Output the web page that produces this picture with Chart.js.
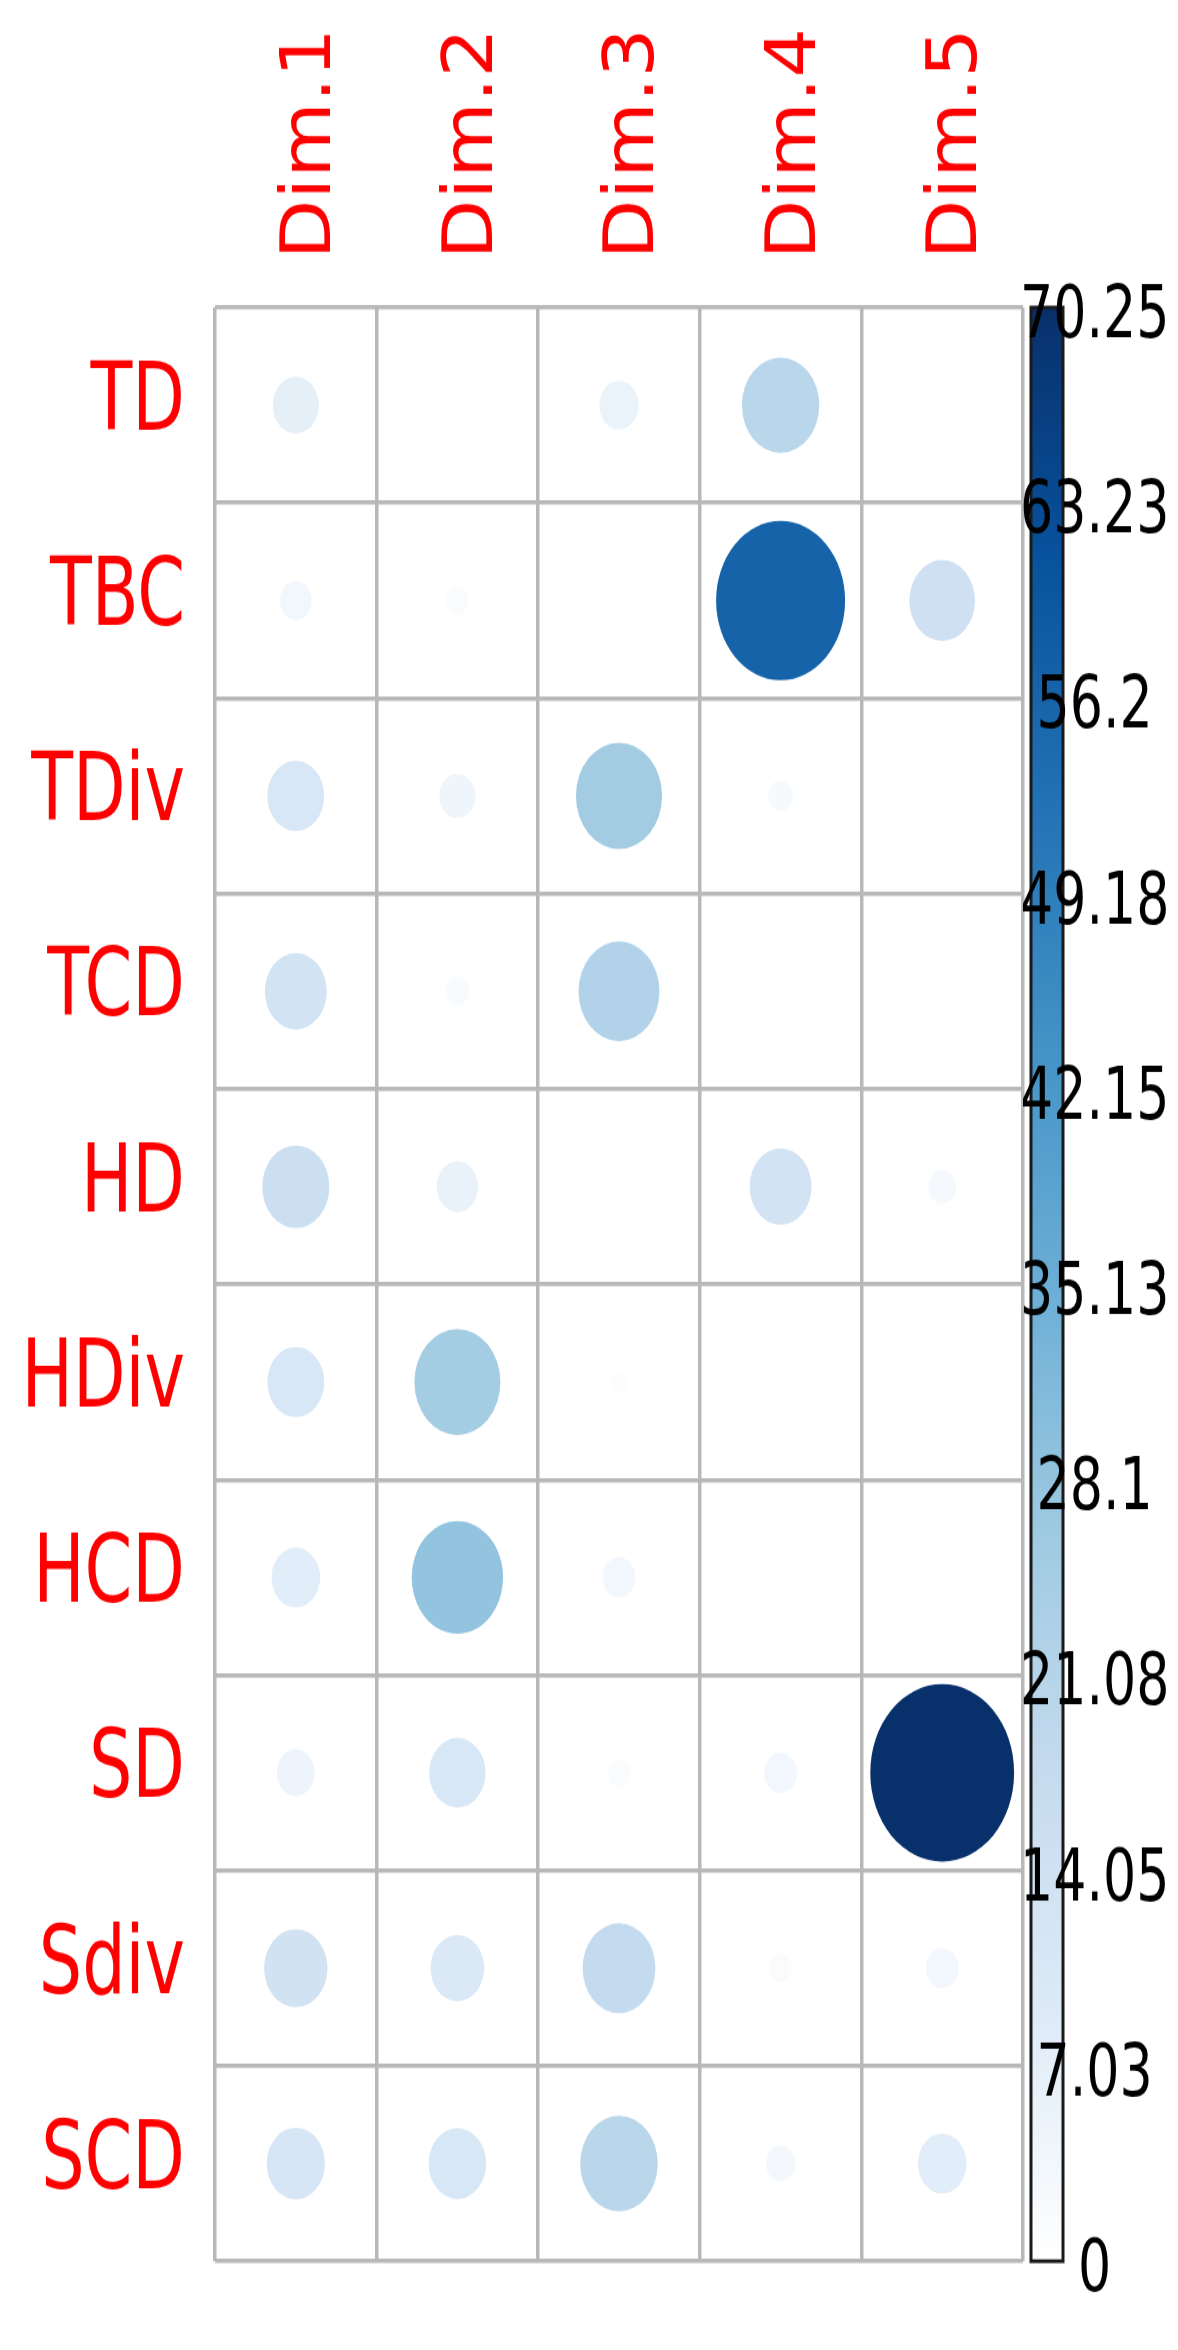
<!DOCTYPE html>
<html>
<head>
<meta charset="utf-8">
<title>Contributions</title>
<script src="https://cdn.jsdelivr.net/npm/chart.js@4.4.1/dist/chart.umd.min.js"></script>
<style>
    html, body { margin: 0; padding: 0; background: #fff; }
    #page { width: 1178px; height: 2350px; overflow: hidden; }
    #wrap { width: 1178px; height: 1903px; transform: scaleY(1.2349); transform-origin: 0 0; }
</style>
</head>
<body>
<div id="page"><div id="wrap"><canvas id="corrChart" width="1178" height="1903"></canvas></div></div>
<script>
const dims = ['Dim.1', 'Dim.2', 'Dim.3', 'Dim.4', 'Dim.5'];
const vars = ['TD', 'TBC', 'TDiv', 'TCD', 'HD', 'HDiv', 'HCD', 'SD', 'Sdiv', 'SCD'];

// contribution (%) of each variable, one array per dimension, in the order of vars
const dim1 = [7.2, 3.4, 11.0, 13.0, 15.3, 11.0, 8.0, 4.9, 13.6, 11.5];
const dim2 = [0.1, 1.7, 4.4, 1.9, 5.8, 25.1, 28.3, 10.8, 9.8, 11.2];
const dim3 = [5.3, 0.4, 25.2, 22.2, 0.1, 1.0, 3.6, 1.7, 18.0, 20.4];
const dim4 = [20.3, 56.5, 2.1, 0.2, 13.0, 0.2, 0.2, 3.6, 1.7, 2.9];
const dim5 = [0.1, 14.6, 0.2, 0.2, 2.6, 0.2, 0.3, 70.25, 3.6, 8.0];

const scaleTicks = [0, 7.03, 14.05, 21.08, 28.1, 35.13, 42.15, 49.18, 56.2, 63.23, 70.25];
const scaleLabels = ['0', '7.03', '14.05', '21.08', '28.1', '35.13', '42.15', '49.18', '56.2', '63.23', '70.25'];
const blues = ['#FFFFFF', '#DEEBF7', '#C6DBEF', '#9ECAE1', '#6BAED6', '#4292C6', '#2171B5', '#08519C', '#08306B'];

const maxValue = 70.25;
const leftAxisWidth = 215;
const barAxisWidth = 155;
const fontFamily = "'DejaVu Sans Condensed', 'Liberation Sans', sans-serif";

const points = [];
[dim1, dim2, dim3, dim4, dim5].forEach((col, j) => {
    col.forEach((v, i) => points.push({x: dims[j], y: vars[i], v: v}));
});

function hexToRgb(h) {
    const n = parseInt(h.slice(1), 16);
    return [(n >> 16) & 255, (n >> 8) & 255, n & 255];
}

function bluesAt(v) {
    const t = Math.min(Math.max(v / maxValue, 0), 1) * (blues.length - 1);
    const i = Math.min(Math.floor(t), blues.length - 2);
    const f = t - i;
    const a = hexToRgb(blues[i]);
    const b = hexToRgb(blues[i + 1]);
    const c = a.map((x, k) => Math.round(x + (b[k] - x) * f));
    return `rgb(${c[0]}, ${c[1]}, ${c[2]})`;
}

// gradient bar behind the colour scale labels
const colorBar = {
    id: 'colorBar',
    beforeDraw(chart) {
        const s = chart.scales.cb;
        const top = s.getPixelForValue(maxValue);
        const bottom = s.getPixelForValue(0);
        const left = s.left + 8;
        const width = 32;
        const ctx = chart.ctx;
        const g = ctx.createLinearGradient(0, bottom, 0, top);
        blues.forEach((c, i) => g.addColorStop(i / (blues.length - 1), c));
        ctx.save();
        ctx.fillStyle = g;
        ctx.fillRect(left, top, width, bottom - top);
        ctx.strokeStyle = '#1a1a1a';
        ctx.lineWidth = 3;
        ctx.strokeRect(left, top, width, bottom - top);
        ctx.restore();
    }
};

const ctx = document.getElementById('corrChart').getContext('2d');
new Chart(ctx, {
    type: 'bubble',
    data: {
        datasets: [{
            data: points,
            borderWidth: 0,
            backgroundColor: (c) => c.raw ? bluesAt(c.raw.v) : 'transparent',
            radius: (c) => {
                if (!c.raw) return 0;
                // radius is resolved while parsing, before the scales are fitted
                const cell = (c.chart.width - leftAxisWidth - barAxisWidth) / dims.length;
                return cell * 0.445 * Math.sqrt(c.raw.v / maxValue);
            },
            hoverRadius: 0
        }]
    },
    options: {
        responsive: false,
        animation: false,
        events: [],
        layout: {
            padding: {top: 0, left: 0, right: 0, bottom: 37}
        },
        plugins: {
            legend: {display: false},
            tooltip: {enabled: false}
        },
        scales: {
            x: {
                type: 'category',
                labels: dims,
                position: 'top',
                offset: true,
                grid: {offset: true, color: '#b8b8b8', lineWidth: 3.5, drawTicks: false},
                border: {display: false},
                afterFit: (s) => { s.height = 249; s.paddingLeft = 0; s.paddingRight = 0; },
                ticks: {
                    color: '#ff0000',
                    font: {family: fontFamily, size: 70},
                    minRotation: 90,
                    maxRotation: 90,
                    autoSkip: false,
                    padding: 39,
                    labelOffset: 100
                }
            },
            y: {
                type: 'category',
                labels: vars,
                position: 'left',
                offset: true,
                grid: {offset: true, color: '#b8b8b8', lineWidth: 3.5, drawTicks: false},
                border: {display: false},
                afterFit: (s) => { s.width = leftAxisWidth; s.paddingTop = 0; s.paddingBottom = 0; },
                ticks: {
                    color: '#ff0000',
                    font: {family: fontFamily, size: 76},
                    autoSkip: false,
                    padding: 30
                }
            },
            cb: {
                type: 'linear',
                position: 'right',
                min: 0,
                max: maxValue,
                grid: {display: false},
                border: {display: false},
                afterBuildTicks: (s) => { s.ticks = scaleTicks.map(v => ({value: v})); },
                afterFit: (s) => { s.width = barAxisWidth; s.paddingTop = 0; s.paddingBottom = 0; },
                ticks: {
                    color: '#000000',
                    font: {family: fontFamily, size: 58},
                    crossAlign: 'center',
                    padding: -11,
                    labelOffset: 9,
                    autoSkip: false,
                    callback: (v, i) => scaleLabels[i]
                }
            }
        }
    },
    plugins: [colorBar]
});
</script>
</body>
</html>
